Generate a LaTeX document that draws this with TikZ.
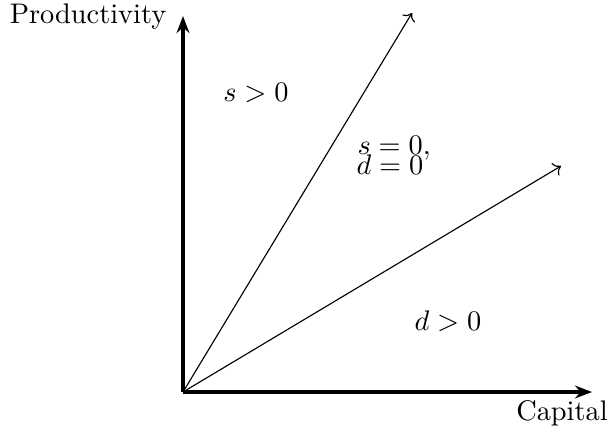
\documentclass[tikz,border=0pt]{standalone}
\usetikzlibrary{arrows.meta}
\begin{document}
\begin{tikzpicture}[x=0.3528pt,y=-0.3528pt,
  axis/.style={line width=1.2pt,-{Stealth[length=6pt,width=4.5pt]}},
  ray/.style={line width=0.4pt,->},
  lbl/.style={inner sep=0pt}]
\useasboundingbox (0,0) rectangle (610,434);
\coordinate (o) at (183,392);
\coordinate (ytip) at (183,16);
\coordinate (xtip) at (592,392);
\coordinate (r1) at (412,13);
\coordinate (r2) at (561,166);
\draw[axis] (o) -- (ytip);
\draw[axis] (o) -- (xtip);
\draw[ray] (o) -- (r1);
\draw[ray] (o) -- (r2);
\node[lbl] (prod) at (88,17) {Productivity};
\node[lbl] (cap) at (562,413) {Capital};
\node[lbl] (sp) at (256,93) {$s>0$};
\node[lbl,anchor=west] (s0) at (357,148) {$s=0,$};
\node[lbl,anchor=west] (d0) at (356,165) {$d=0$};
\node[lbl] (dp) at (448,321) {$d>0$};
\end{tikzpicture}
\end{document}
